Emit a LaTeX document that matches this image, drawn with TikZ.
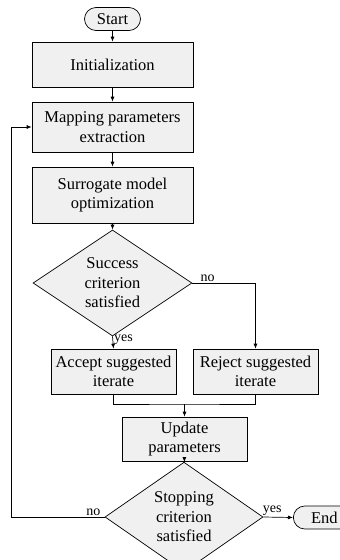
\documentclass[tikz,border=0pt]{standalone}
\usepackage{fontspec}
\setmainfont{Liberation Serif}
\usetikzlibrary{shapes.geometric,shapes.misc,arrows.meta}

\begin{document}
\begin{tikzpicture}[x=1pt,y=-1pt,
		every node/.style={font=\fontsize{16.5}{19.5}\selectfont, align=center},
		block/.style={draw, fill=gray!12, rectangle, inner sep=1pt},
		decision/.style={draw, fill=gray!12, diamond, inner sep=0pt, minimum width=159, minimum height=92},
		term/.style={draw, fill=gray!12, rounded rectangle, inner sep=1pt, minimum height=23},
		link/.style={line width=0.7pt, -{Latex[length=5pt,width=4pt]}},
		plain/.style={line width=0.7pt},
		lbl/.style={font=\fontsize{14}{16}\selectfont, inner sep=1pt}]
		\useasboundingbox (0,0) rectangle (340,560);
		\begin{scope}[line width=0.7pt]
			\node [term, minimum width=58] (start) at (112.5,19) {Start};
			\node [block, minimum width=161, minimum height=45] (init) at (112.5,64.5) {Initialization};
			\node [block, minimum width=161, minimum height=50] (map) at (112.5,127) {Mapping parameters\\extraction};
			\node [block, minimum width=161, minimum height=56] (surr) at (112.5,195) {Surrogate model\\optimization};
			\node [decision] (succ) at (112.5,283) {Success\\criterion\\satisfied};
			\node [block, minimum width=125, minimum height=45] (acc) at (113.5,371.5) {Accept suggested\\iterate};
			\node [block, minimum width=125, minimum height=45] (rej) at (255.5,371.5) {Reject suggested\\iterate};
			\node [block, minimum width=125, minimum height=44] (upd) at (184.5,439) {Update\\parameters};
			\node [decision, minimum width=158] (stop) at (184,517) {Stopping\\criterion\\satisfied};
			\node [term, minimum width=64, anchor=west] (end) at (293,517.5) {End};
		\end{scope}
		\coordinate (mrg) at (184.5,404);
		\coordinate (back) at (11,517);

		\draw [link] (start) -- (init);
		\draw [link] (init) -- (map);
		\draw [link] (map) -- (surr);
		\draw [link] (surr) -- (succ);
		\draw [link] (succ.south) -- node [lbl, right, pos=0.3] {yes} (acc.north);
		\draw [link] (succ.east) -| node [lbl, above, pos=0.12] {no} (rej.north);
		\draw [plain] (acc.south) |- (mrg) -| (rej.south);
		\draw [link] (mrg) -- (upd.north);
		\draw [link] (upd) -- (stop);
		\draw [link] (stop.west) -- node [lbl, above, pos=0.12] {no} (back) |- (map.west);
		\draw [link] (stop.east) -- node [lbl, above, pos=0.3] {yes} (end.west);
\end{tikzpicture}
\end{document}
